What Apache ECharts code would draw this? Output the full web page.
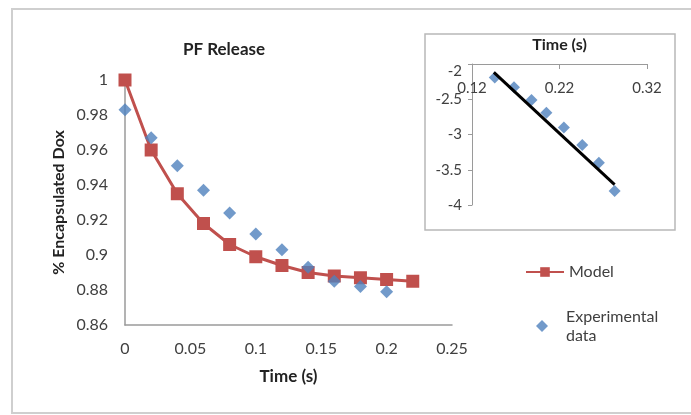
<!DOCTYPE html>
<html>
<head>
<meta charset="utf-8">
<script src="https://cdn.jsdelivr.net/npm/echarts@6/dist/echarts.min.js"></script>
<style>
  html, body { margin: 0; padding: 0; background: #fff; }
  #main { width: 691px; height: 415px; }
</style>
</head>
<body>
<div id="main"></div>
<script>
// main chart data
var timeModel = [0, 0.02, 0.04, 0.06, 0.08, 0.1, 0.12, 0.14, 0.16, 0.18, 0.2, 0.22];
var model = [1.0, 0.960, 0.935, 0.918, 0.906, 0.899, 0.894, 0.890, 0.888, 0.887, 0.886, 0.885];
var timeExp = [0, 0.02, 0.04, 0.06, 0.08, 0.1, 0.12, 0.14, 0.16, 0.18, 0.2];
var experimental = [0.983, 0.967, 0.951, 0.937, 0.924, 0.912, 0.903, 0.893, 0.885, 0.882, 0.879];

// inset data (log plot)
var insetTime = [0.146, 0.168, 0.188, 0.205, 0.225, 0.246, 0.265, 0.283];
var insetLog = [-2.19, -2.33, -2.51, -2.69, -2.90, -3.15, -3.40, -3.80];
var fitTime = [0.145, 0.283];
var fitLog = [-2.12, -3.71];
var insetStart = 0.12; // inset x axis starts here, ticks every 0.1

var font = 'Lato';
var grey = '#404040';

function pairs(xs, ys, off) {
  var out = [];
  for (var i = 0; i < xs.length; i++) {
    out.push([xs[i] - (off || 0), ys[i]]);
  }
  return out;
}

var myChart = echarts.init(document.getElementById('main'));

var option = {
  animation: false,
  textStyle: { fontFamily: font },
  title: {
    text: 'PF Release',
    left: 219,
    top: 36,
    textAlign: 'center',
    textStyle: { fontFamily: font, fontSize: 17, fontWeight: 'bold', color: '#222' }
  },
  graphic: [
    { type: 'rect', z: -1, shape: { x: 12, y: 9, width: 740, height: 404 },
      style: { fill: '#fff', stroke: '#cfcfcf', lineWidth: 2 } },
    { type: 'rect', z: 0, shape: { x: 425, y: 34, width: 250, height: 196 },
      style: { fill: '#fff', stroke: '#b8b8b8', lineWidth: 1.5 } }
  ],
  legend: [
    {
      data: ['Model'],
      left: 520, top: 259,
      itemWidth: 38, itemHeight: 12,
      textStyle: { fontFamily: font, fontSize: 16, color: grey }
    },
    {
      data: [{ name: 'Experimental data', icon: 'diamond' }],
      left: 531, top: 302,
      itemWidth: 12, itemHeight: 12,
      formatter: function (n) { return 'Experimental\ndata'; },
      textStyle: { fontFamily: font, fontSize: 16, color: grey, lineHeight: 19, padding: [0, 0, 0, 13] }
    }
  ],
  grid: [
    { left: 125, top: 80, width: 327, height: 245 },
    { left: 472, top: 64, width: 175, height: 141 }
  ],
  xAxis: [
    {
      gridIndex: 0, type: 'value', min: 0, max: 0.25, interval: 0.05,
      name: 'Time (s)', nameLocation: 'middle', nameGap: 43,
      nameTextStyle: { fontFamily: font, fontSize: 17, fontWeight: 'bold', color: '#222' },
      axisLine: { lineStyle: { color: '#9a9a9a', width: 1.5 } },
      axisTick: { show: false },
      splitLine: { show: false },
      axisLabel: { fontFamily: font, fontSize: 16, color: grey, margin: 16 }
    },
    {
      gridIndex: 1, type: 'value', min: 0, max: 0.2, interval: 0.1, position: 'top',
      name: 'Time (s)', nameLocation: 'middle', nameGap: 11,
      nameTextStyle: { fontFamily: font, fontSize: 16, fontWeight: 'bold', color: '#222' },
      axisLine: { onZero: false, lineStyle: { color: '#9a9a9a', width: 1 } },
      axisTick: { inside: true, length: 5, lineStyle: { color: '#9a9a9a' } },
      splitLine: { show: false },
      axisLabel: {
        inside: true, fontFamily: font, fontSize: 15, color: grey, margin: 17,
        formatter: function (v) { return (v + insetStart).toFixed(2); }
      }
    }
  ],
  yAxis: [
    {
      gridIndex: 0, type: 'value', min: 0.86, max: 1, interval: 0.02,
      name: '% Encapsulated Dox', nameLocation: 'middle', nameGap: 58,
      nameTextStyle: { fontFamily: font, fontSize: 16, fontWeight: 'bold', color: '#222' },
      axisLine: { show: true, lineStyle: { color: '#9a9a9a', width: 1.5 } },
      axisTick: { show: false },
      splitLine: { show: false },
      axisLabel: { fontFamily: font, fontSize: 16, color: grey, margin: 17 }
    },
    {
      gridIndex: 1, type: 'value', min: -4, max: -2, interval: 0.5,
      axisLine: { show: true, onZero: false, lineStyle: { color: '#9a9a9a', width: 1 } },
      axisTick: { show: true, length: 4, lineStyle: { color: '#9a9a9a' } },
      splitLine: { show: false },
      axisLabel: { fontFamily: font, fontSize: 15, color: grey, margin: 10, verticalAlignMaxLabel: 'top' }
    }
  ],
  series: [
    {
      name: 'Model', type: 'line',
      xAxisIndex: 0, yAxisIndex: 0,
      data: pairs(timeModel, model),
      symbol: 'rect', symbolSize: 13,
      itemStyle: { color: '#C0504D' },
      lineStyle: { color: '#C0504D', width: 3 },
      z: 2
    },
    {
      name: 'Experimental data', type: 'scatter',
      xAxisIndex: 0, yAxisIndex: 0,
      data: pairs(timeExp, experimental),
      symbol: 'diamond', symbolSize: 13,
      itemStyle: { color: '#4F81BD' },
      z: 3
    },
    {
      name: 'ln data', type: 'scatter',
      xAxisIndex: 1, yAxisIndex: 1,
      data: pairs(insetTime, insetLog, insetStart),
      symbol: 'diamond', symbolSize: 12,
      itemStyle: { color: '#4F81BD' }
    },
    {
      name: 'fit', type: 'line',
      xAxisIndex: 1, yAxisIndex: 1,
      data: pairs(fitTime, fitLog, insetStart),
      symbol: 'none',
      lineStyle: { color: '#000', width: 3 },
      z: 4
    }
  ]
};

myChart.setOption(option);
</script>
</body>
</html>
